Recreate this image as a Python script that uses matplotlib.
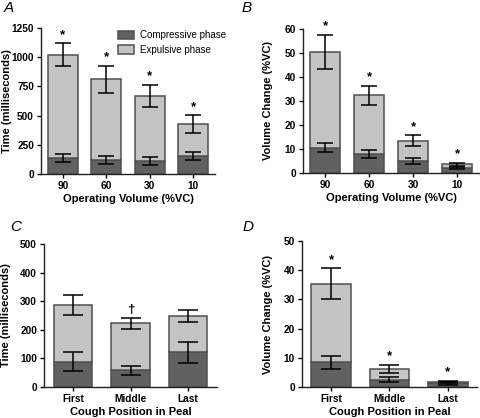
import numpy as np
import matplotlib
matplotlib.use("Agg")
import matplotlib.pyplot as plt

plt.rcParams["font.family"] = ["Liberation Sans", "DejaVu Sans"]

# =====================================
# Data
# =====================================

vol_labels = ["90", "60", "30", "10"]
peal_labels = ["First", "Middle", "Last"]

# A - time vs operating volume (ms)
time_comp_vol = [137, 117, 109, 154]
time_comp_vol_sem = [32, 35, 35, 32]
time_total_vol = [1020, 810, 668, 425]
time_total_vol_sem = [98, 118, 97, 78]
time_vol_marks = ["*", "*", "*", "*"]

# B - volume change vs operating volume (%VC)
vc_comp_vol = [10.6, 7.9, 5.0, 2.1]
vc_comp_vol_sem = [2.0, 1.7, 1.2, 0.6]
vc_total_vol = [50.5, 32.3, 13.5, 3.6]
vc_total_vol_sem = [7.2, 4.1, 2.3, 0.7]
vc_vol_marks = ["*", "*", "*", "*"]

# C - time vs cough position (ms)
time_comp_peal = [88, 58, 121]
time_comp_peal_sem = [33, 17, 36]
time_total_peal = [286, 223, 249]
time_total_peal_sem = [34, 19, 21]
time_peal_marks = ["", "\u2020", ""]

# D - volume change vs cough position (%VC)
vc_comp_peal = [8.4, 2.5, 1.2]
vc_comp_peal_sem = [2.2, 0.8, 0.4]
vc_total_peal = [35.4, 6.2, 1.7]
vc_total_peal_sem = [5.3, 1.5, 0.5]
vc_peal_marks = ["*", "*", "*"]

dark = "#616161"
light = "#c4c4c4"
edge = "#505050"

W, H = 480, 418
fig = plt.figure(figsize=(4.8, 4.18), dpi=100)


def rect(x0, y_top, x1, y_bot):
    return [x0 / W, 1 - y_bot / H, (x1 - x0) / W, (y_bot - y_top) / H]


def panel(r, labels, comp, comp_sem, total, total_sem, marks,
          ymax, ystep, ylabel, xlabel, width, capsize, ylab_x):
    ax = fig.add_axes(r)
    x = np.arange(len(labels))
    comp = np.array(comp)
    total = np.array(total)

    ax.bar(x, comp, width, color=dark, edgecolor=edge, linewidth=1.1,
           label="Compressive phase", zorder=2)
    ax.bar(x, total - comp, width, bottom=comp, color=light, edgecolor=edge,
           linewidth=1.1, label="Expulsive phase", zorder=2)

    ax.errorbar(x, comp, yerr=comp_sem, fmt="none", ecolor="black",
                elinewidth=1.1, capsize=capsize, capthick=1.1, zorder=3)
    ax.errorbar(x, total, yerr=total_sem, fmt="none", ecolor="black",
                elinewidth=1.1, capsize=capsize, capthick=1.1, zorder=3)

    for xi, t, s, m in zip(x, total, total_sem, marks):
        if m:
            ax.annotate(m, (xi, t + s), xytext=(0, 1.5), textcoords="offset points",
                        ha="center", va="bottom", fontsize=9.5, fontweight="bold")

    ax.set_xlim(-0.5, len(labels) - 0.5)
    ax.set_ylim(0, ymax)
    ax.set_yticks(np.arange(0, ymax + ystep / 2, ystep))
    ax.set_xticks(x)
    ax.set_xticklabels(labels)

    for side in ["top", "right"]:
        ax.spines[side].set_visible(False)
    for side in ["left", "bottom"]:
        ax.spines[side].set_linewidth(1.0)
        ax.spines[side].set_color("#222222")

    ax.tick_params(axis="both", length=3, width=1.0, pad=2, labelsize=7.3)
    for lab in ax.get_xticklabels() + ax.get_yticklabels():
        lab.set_fontweight("bold")

    ax.set_xlabel(xlabel, fontsize=8, fontweight="bold", labelpad=2)
    ax.set_ylabel(ylabel, fontsize=8, fontweight="bold")
    ax.yaxis.set_label_coords(ylab_x, 0.5)
    return ax


# =====================================
# Panel A
# =====================================

axA = panel(rect(41, 28, 215, 174), vol_labels, time_comp_vol, time_comp_vol_sem,
            time_total_vol, time_total_vol_sem, time_vol_marks,
            1250, 250, "Time (milliseconds)", "Operating Volume (%VC)", 0.68, 5.5,
            -0.165)
axA.legend(loc="upper left", bbox_to_anchor=(0.42, 1.01), frameon=False, fontsize=7,
           handlelength=1.7, handleheight=1.0, handletextpad=0.6, labelspacing=0.45,
           borderaxespad=0)

# =====================================
# Panel B
# =====================================

panel(rect(303, 29, 479, 173), vol_labels, vc_comp_vol, vc_comp_vol_sem,
      vc_total_vol, vc_total_vol_sem, vc_vol_marks,
      60, 10, "Volume Change (%VC)", "Operating Volume (%VC)", 0.68, 5.5,
      -0.17)

# =====================================
# Panel C
# =====================================

panel(rect(44, 244, 217, 387), peal_labels, time_comp_peal, time_comp_peal_sem,
      time_total_peal, time_total_peal_sem, time_peal_marks,
      500, 100, "Time (milliseconds)", "Cough Position in Peal", 0.667, 7,
      -0.19)

# =====================================
# Panel D
# =====================================

panel(rect(302, 241, 477, 387), peal_labels, vc_comp_peal, vc_comp_peal_sem,
      vc_total_peal, vc_total_peal_sem, vc_peal_marks,
      50, 10, "Volume Change (%VC)", "Cough Position in Peal", 0.68, 7,
      -0.166)

# =====================================
# Panel letters
# =====================================

for letter, px, py in [("A", 4, 8), ("B", 242, 8), ("C", 10, 227), ("D", 243, 227)]:
    fig.text(px / W, 1 - py / H, letter, fontsize=11, style="italic",
             ha="left", va="center")

fig.savefig("out.png", dpi=100)
